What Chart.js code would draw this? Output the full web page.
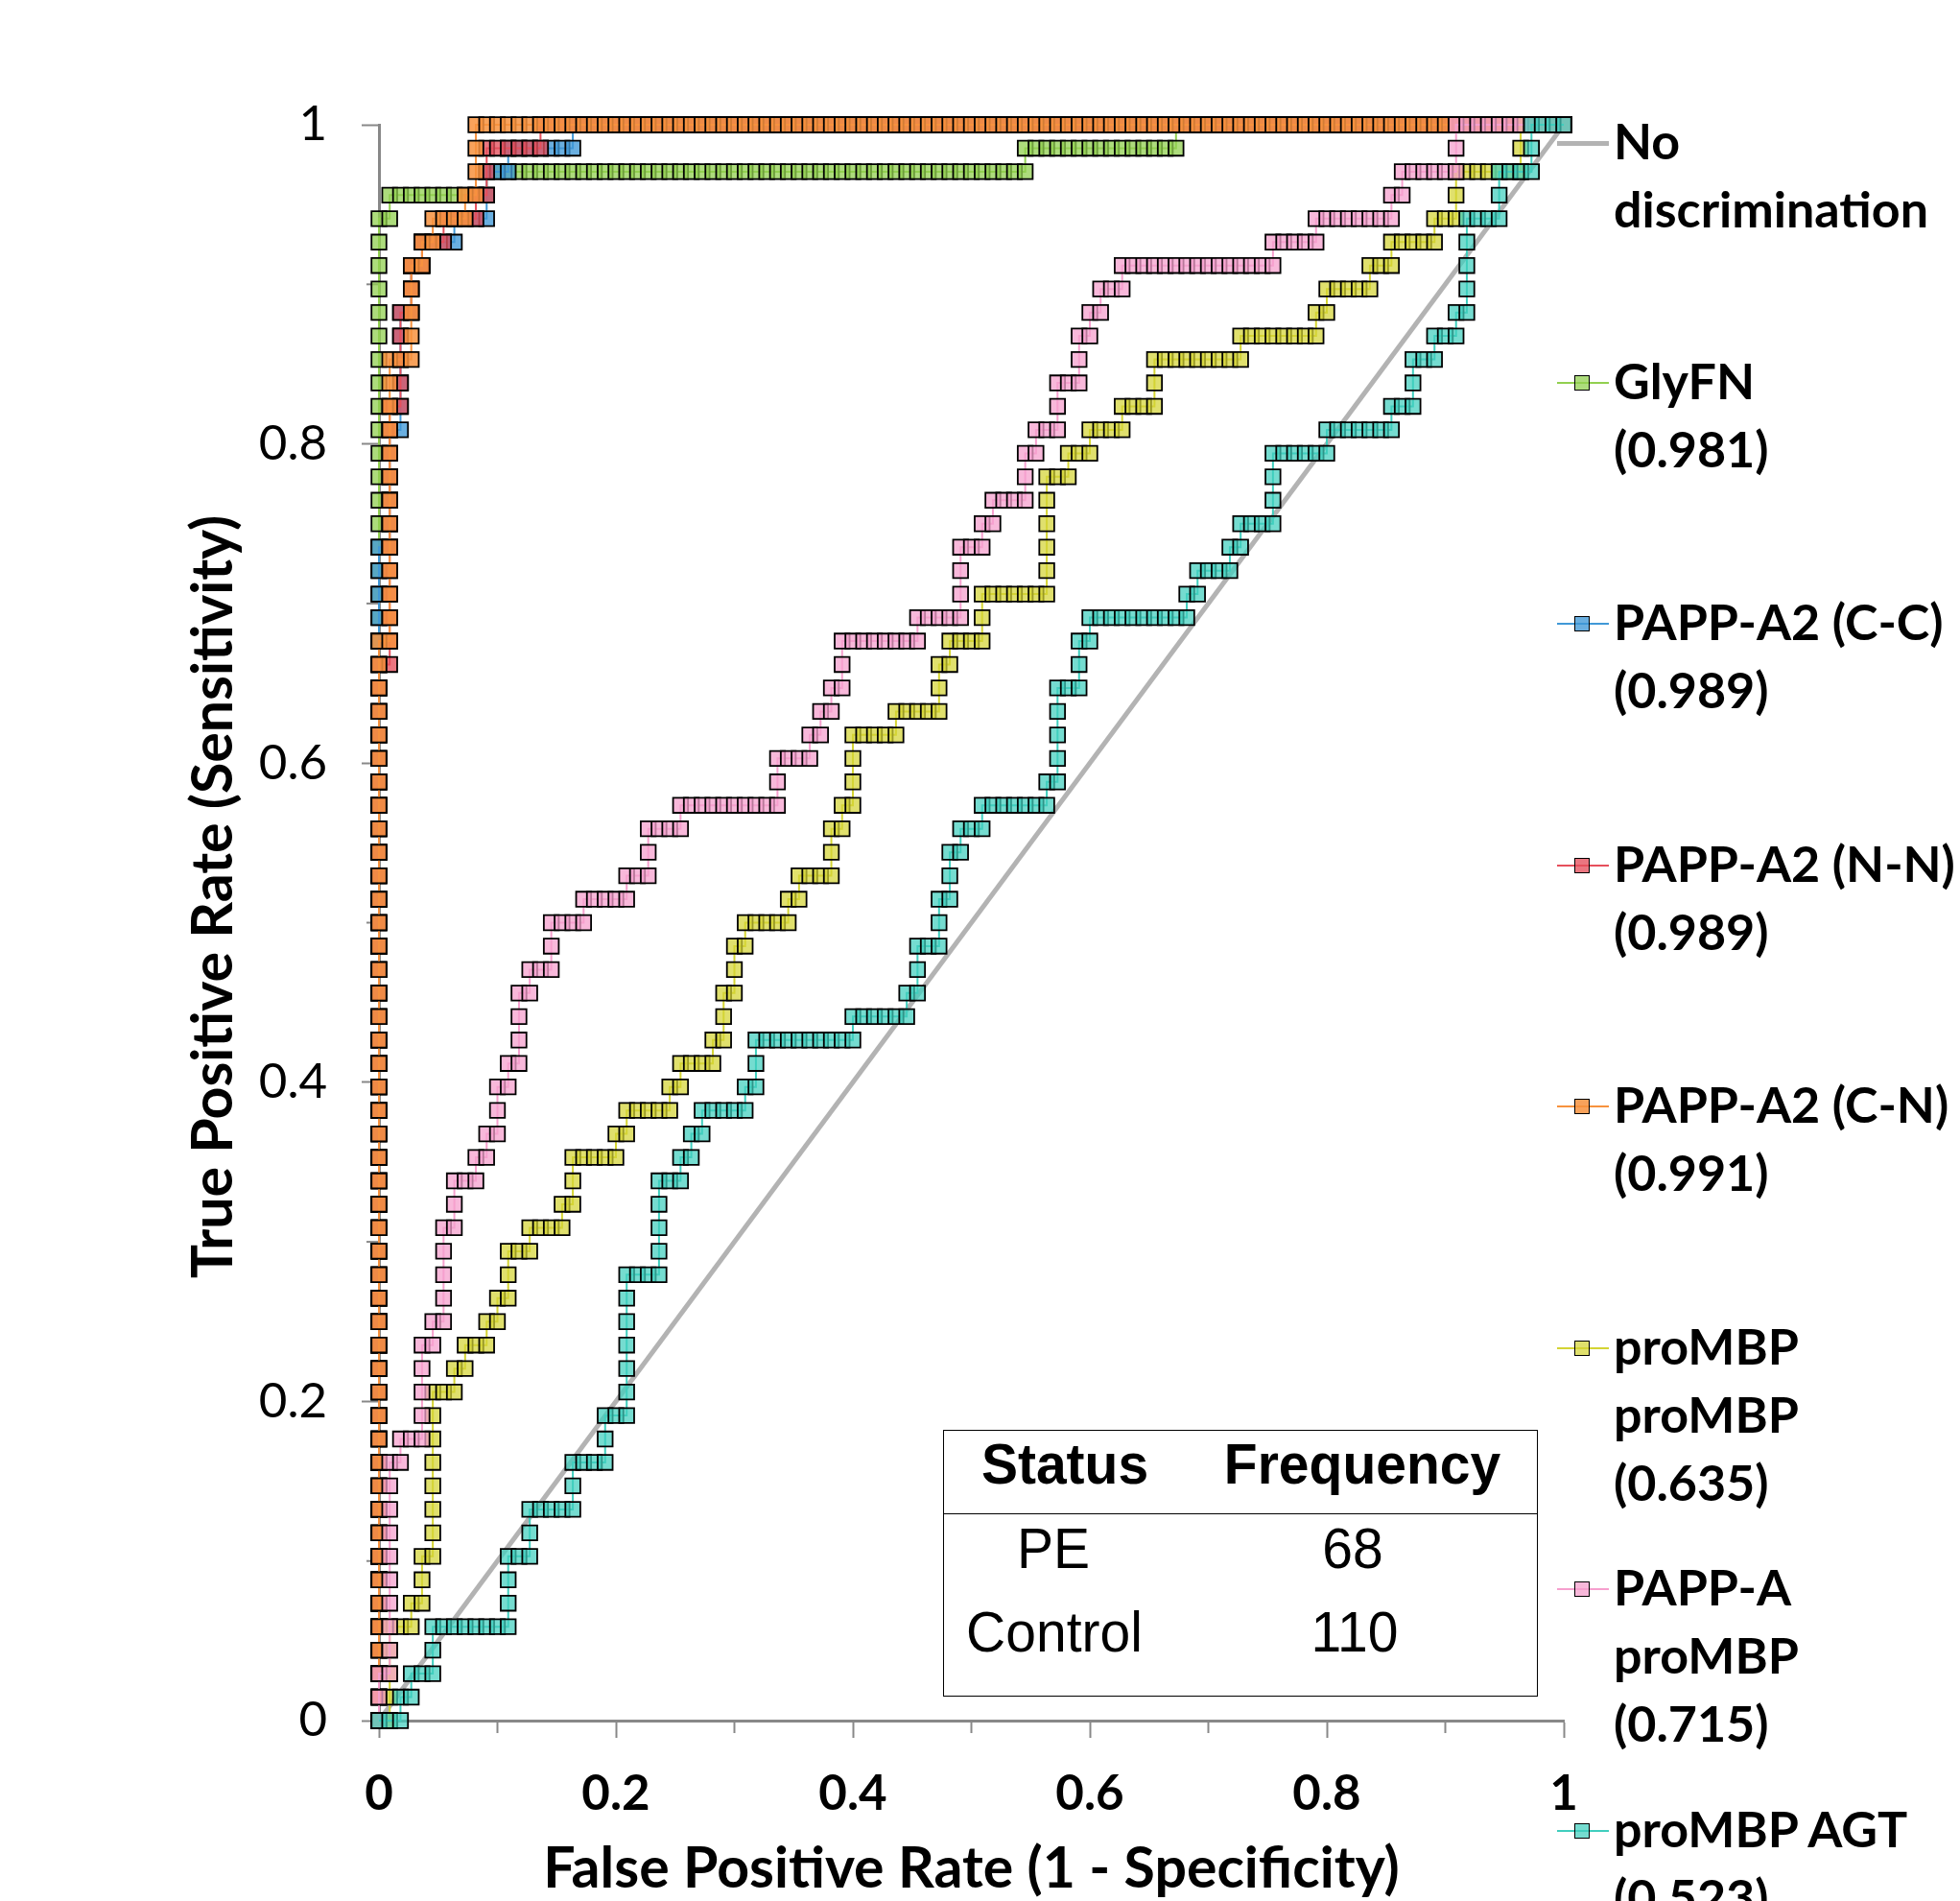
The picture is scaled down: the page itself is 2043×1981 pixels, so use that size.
<!DOCTYPE html>
<html>
<head>
<meta charset="utf-8">
<title>ROC curves: PE vs Control</title>
<script src="https://cdn.jsdelivr.net/npm/chart.js@4.4.1/dist/chart.umd.min.js"></script>
<style>
  html, body { margin: 0; padding: 0; background: #fff; overflow: hidden; }
  #wrap { position: relative; width: 2043px; height: 1981px; overflow: hidden; }
  #roc { position: absolute; left: 0; top: 0; }
  .legend-entry { position: absolute; left: 1682px; font: bold 52px Lato, sans-serif; line-height: 71px; color: #000; white-space: nowrap; }
  .legend-line { position: absolute; left: 1623px; width: 54px; }
  .legend-mark { position: absolute; left: 1641px; width: 14px; height: 14px; border: 1.5px solid #000; }
  .freq-box { position: absolute; left: 983px; top: 1490px; width: 620px; height: 278px; border: 1.5px solid #000; box-sizing: border-box; }
  .freq-sep { position: absolute; left: 983px; top: 1577px; width: 620px; height: 0; border-top: 1.5px solid #000; }
  .cell { position: absolute; font-family: 'Liberation Sans', Arial, sans-serif; font-size: 60px; line-height: 60px; color: #000; white-space: nowrap; transform: translateX(-50%) scaleX(0.95); }
  .cell.head { font-weight: bold; }
</style>
</head>
<body>
<div id="wrap">
  <canvas id="roc" width="2043" height="1981"></canvas>
  <div class="freq-box"></div>
  <div class="freq-sep"></div>
  <span class="cell head" style="left:1110px; top:1496px">Status</span>
  <span class="cell head" style="left:1420px; top:1496px">Frequency</span>
  <span class="cell" style="left:1098px; top:1584px">PE</span>
  <span class="cell" style="left:1410px; top:1584px">68</span>
  <span class="cell" style="left:1099px; top:1671px">Control</span>
  <span class="cell" style="left:1412px; top:1671px">110</span>
</div>
<script>
const CASES = 68;      // PE
const CONTROLS = 110;  // Control

// false positives reached at each true-positive count 0..68
const glyfnFp = [
  0,0,0,0,0,0,0,0,0,0, 0,0,0,0,0,0,0,0,0,0, 0,0,0,0,0,0,0,0,0,0,
  0,0,0,0,0,0,0,0,0,0, 0,0,0,0,0,0,0,0,0,0, 0,0,0,0,0,0,0,0,0,0,
  0,0,0,0, 1,10,60,74,110
];
const ccFp = [
  0,0,0,0,0,0,0,0,0,0, 0,0,0,0,0,0,0,0,0,0, 0,0,0,0,0,0,0,0,0,0,
  0,0,0,0,0,0,0,0,0,0, 0,0,0,0,0,0,0,0,0,0,
  1,1,1,1,1, 2,2,2,2,2, 3,3,4,7,10,10,12,18,110
];
const nnFp = [
  0,0,0,0,0,0,0,0,0,0, 0,0,0,0,0,0,0,0,0,0, 0,0,0,0,0,0,0,0,0,0,
  0,0,0,0,0,0,0,0,0,0, 0,0,0,0,0,
  1,1,1,1,1,1,1,1,1,1,1, 2,2,2,2, 3,3,4,6,9,10,10,15,110
];
const cnFp = [
  0,0,0,0,0,0,0,0,0,0, 0,0,0,0,0,0,0,0,0,0, 0,0,0,0,0,0,0,0,0,0,
  0,0,0,0,0,0,0,0,0,0, 0,0,0,0,0,0,
  1,1,1,1,1,1,1,1,1,1,1,1, 3,3,3,3, 4,5,8,9,9,9,110
];
const mbpMbpFp = [
  1,1,1,1,3,4,4,5,5,5, 5,5,5,5,7,8,10,11,12,12,
  14,17,18,18,22,23,27,28,31,32, 32,33,33,34,38,39,42,42,43,44,
  44,44,48,52,52,53,56,56,62,62, 62,62,62,64,66,69,72,72,80,87,
  88,92,94,98,100,100,106,106,110
];
const pappaMbpFp = [
  0,0,1,1,1,1,1,1,1,1, 1,2,4,4,4,4,5,6,6,6,
  6,7,7,9,10,11,11,12,13,13, 13,14,16,16,19,23,25,25,28,37,
  37,40,41,42,43,43,50,54,54,54, 56,57,60,60,61,63,63,65,65,66,
  67,69,83,87,94,95,100,100,110
];
const mbpAgtFp = [
  2,3,5,5,12,12,12,14,14,18, 18,21,21,23,23,23,23,23,23,26,
  26,26,26,28,29,30,34,35,35,44, 49,50,50,52,52,53,53,54,56,62,
  63,63,63,63,65,65,66,75,76,79, 80,83,83,83,88,94,96,96,98,100,
  101,101,101,101,104,104,107,107,110
];
const diagonal = [0, 1];

const seriesFp = [glyfnFp, ccFp, nnFp, cnFp, mbpMbpFp, pappaMbpFp, mbpAgtFp];
const seriesNames = ['GlyFN', 'PAPP-A2 (C-C)', 'PAPP-A2 (N-N)', 'PAPP-A2 (C-N)', 'proMBP proMBP', 'PAPP-A proMBP', 'proMBP AGT'];
const seriesAuc = ['0.981', '0.989', '0.989', '0.991', '0.635', '0.715', '0.523'];
const legendLines = [
  ['No', 'discrimination'],
  ['GlyFN', '(0.981)'],
  ['PAPP-A2 (C-C)', '(0.989)'],
  ['PAPP-A2 (N-N)', '(0.989)'],
  ['PAPP-A2 (C-N)', '(0.991)'],
  ['proMBP', 'proMBP', '(0.635)'],
  ['PAPP-A', 'proMBP', '(0.715)'],
  ['proMBP AGT', '(0.523)']
];
const tickValues = [0, 0.1, 0.2, 0.3, 0.4, 0.5, 0.6, 0.7, 0.8, 0.9, 1];
const xTitle = 'False Positive Rate (1 - Specificity)';
const yTitle = 'True Positive Rate (Sensitivity)';

// styles
const fills = ['rgba(146,208,80,0.75)', 'rgba(64,152,215,0.78)', 'rgba(230,80,92,0.78)', 'rgba(247,146,62,0.85)',
               'rgba(212,212,52,0.72)', 'rgba(246,160,206,0.75)', 'rgba(64,206,190,0.72)'];
const lines = ['#92d050', '#4098d7', '#e6505c', '#f7923e', '#d4d434', '#f6a0ce', '#40cebe'];
const AXIS_GREY = '#888888';
const DIAG_GREY = '#b3b3b3';
const TITLE_FONT = 'bold 59px Lato, sans-serif';
const legendBaselines = [167, 417, 668, 920, 1171, 1423, 1674, 1926];

function rocPoints(fpByTp) {
  const pts = [];
  let fp = 0;
  fpByTp.forEach((end, tp) => {
    for (let f = fp; f <= end; f++) pts.push({ x: f / CONTROLS, y: tp / CASES });
    fp = end;
  });
  return pts;
}

const isMajor = v => Math.round(v * 10) % 2 === 0;
const tickLabel = v => isMajor(v) ? String(Math.round(v * 10) / 10) : '';

const datasets = [{
  label: 'No discrimination',
  data: diagonal.map(v => ({ x: v, y: v })),
  showLine: true,
  borderColor: DIAG_GREY,
  borderWidth: 5,
  pointRadius: 0,
  order: 7,
  clip: false
}];
seriesFp.forEach((fp, i) => {
  datasets.push({
    label: seriesNames[i] + ' (' + seriesAuc[i] + ')',
    data: rocPoints(fp),
    showLine: true,
    borderColor: lines[i],
    borderWidth: 2,
    pointStyle: 'rect',
    pointRadius: 11,
    pointBorderWidth: 1.8,
    pointBorderColor: '#000',
    pointBackgroundColor: fills[i],
    order: 6 - i,
    clip: false
  });
});

// short ticks at the odd tenths, under the markers like the long ones
const minorTicks = {
  id: 'minorTicks',
  beforeDatasetsDraw(chart) {
    const { ctx, chartArea: a, scales: { x, y } } = chart;
    ctx.save();
    ctx.strokeStyle = AXIS_GREY;
    ctx.lineWidth = 2;
    tickValues.filter(v => !isMajor(v)).forEach(v => {
      const px = x.getPixelForValue(v);
      ctx.beginPath(); ctx.moveTo(px, a.bottom); ctx.lineTo(px, a.bottom + 13); ctx.stroke();
      const py = y.getPixelForValue(v);
      ctx.beginPath(); ctx.moveTo(a.left, py); ctx.lineTo(a.left - 13, py); ctx.stroke();
    });
    ctx.restore();
  }
};

// axis titles: the vertical one sits a little above the plot's middle in the original
const axisTitles = {
  id: 'axisTitles',
  afterDraw(chart) {
    const { ctx, chartArea: a } = chart;
    ctx.save();
    ctx.fillStyle = '#000';
    ctx.font = TITLE_FONT;
    ctx.textAlign = 'center';
    ctx.textBaseline = 'middle';
    ctx.fillText(xTitle, (a.left + a.right) / 2, 1948);
    ctx.translate(223, (a.top + a.bottom) / 2 - 27);
    ctx.rotate(-Math.PI / 2);
    ctx.fillText(yTitle, 0, 0);
    ctx.restore();
  }
};

const axisGrid = {
  drawOnChartArea: false,
  tickLength: 18,
  tickWidth: 2,
  tickColor: c => (c.tick && isMajor(c.tick.value)) ? AXIS_GREY : 'rgba(0,0,0,0)'
};

new Chart(document.getElementById('roc'), {
  type: 'scatter',
  data: { datasets },
  options: {
    responsive: false,
    animation: false,
    events: [],
    layout: { padding: { left: 0, top: 130, right: 413, bottom: 0 } },
    plugins: { legend: { display: false }, tooltip: { enabled: false } },
    scales: {
      x: {
        type: 'linear', min: 0, max: 1,
        afterFit: s => { s.height = 188; },
        afterBuildTicks: s => { s.ticks = tickValues.map(v => ({ value: v })); },
        ticks: { autoSkip: false, maxRotation: 0, padding: 28, color: '#000',
                 font: { family: 'Lato', size: 51, weight: 'bold' }, callback: tickLabel },
        grid: axisGrid,
        border: { display: true, color: AXIS_GREY, width: 3 }
      },
      y: {
        type: 'linear', min: 0, max: 1,
        afterFit: s => { s.width = 395; },
        afterBuildTicks: s => { s.ticks = tickValues.map(v => ({ value: v })); },
        ticks: { autoSkip: false, padding: 36, color: '#000',
                 font: { family: 'Lato', size: 51 }, callback: tickLabel },
        grid: axisGrid,
        border: { display: true, color: AXIS_GREY, width: 3 }
      }
    }
  },
  plugins: [minorTicks, axisTitles]
});

// legend on the right, one block per series
const wrap = document.getElementById('wrap');
legendLines.forEach((textLines, i) => {
  const base = legendBaselines[i];
  const entry = document.createElement('div');
  entry.className = 'legend-entry';
  entry.style.top = (base - 56) + 'px';
  entry.innerHTML = textLines.join('<br>');
  wrap.appendChild(entry);

  const line = document.createElement('div');
  line.className = 'legend-line';
  const thick = i === 0 ? 5 : 2;
  line.style.height = thick + 'px';
  line.style.top = (base - 18 - thick / 2) + 'px';
  line.style.background = i === 0 ? DIAG_GREY : lines[i - 1];
  wrap.appendChild(line);

  if (i > 0) {
    const mark = document.createElement('div');
    mark.className = 'legend-mark';
    mark.style.top = (base - 18 - 8.5) + 'px';
    mark.style.background = fills[i - 1];
    wrap.appendChild(mark);
  }
});
</script>
</body>
</html>
